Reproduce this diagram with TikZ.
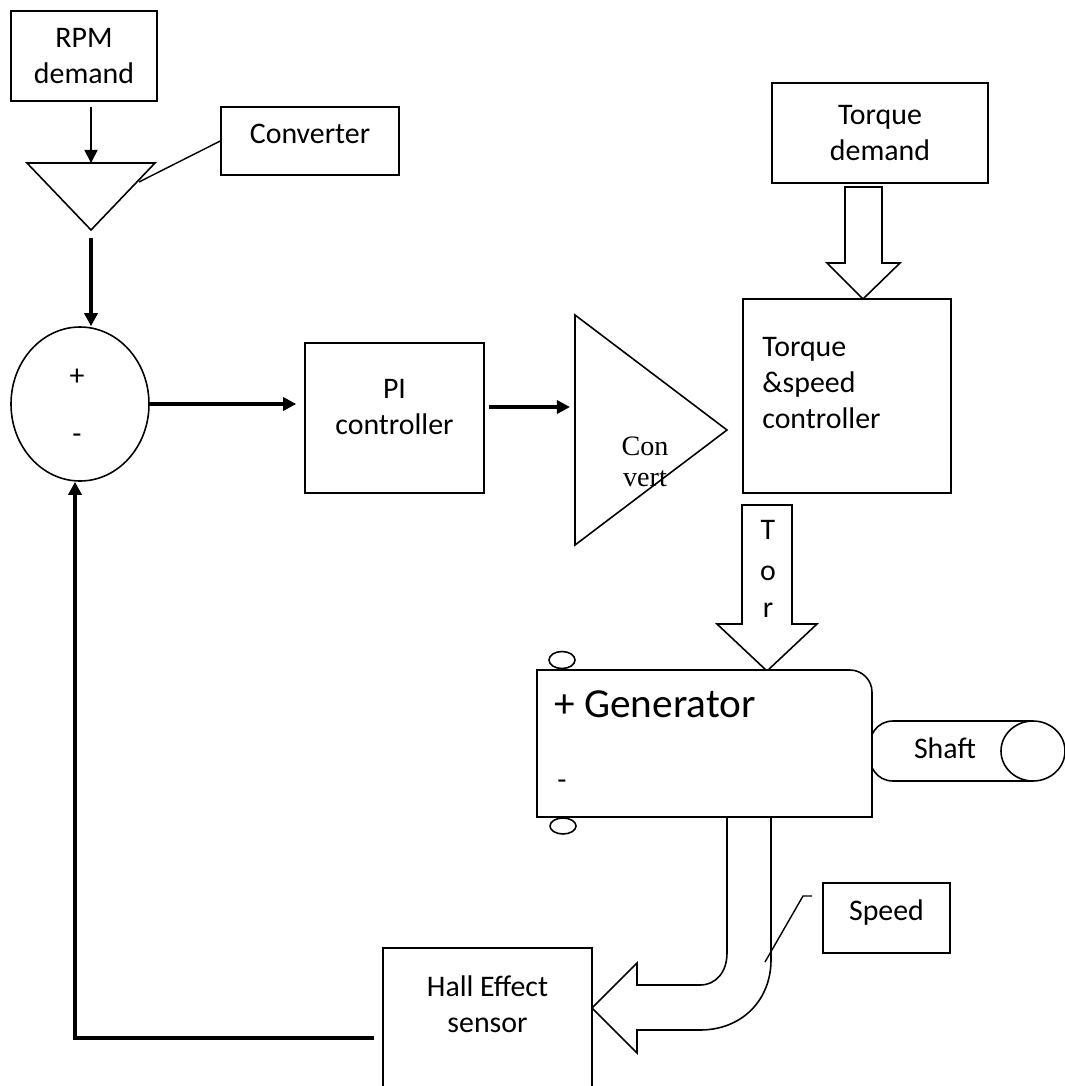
\documentclass[tikz,border=0pt]{standalone}
\usepackage{fontspec}
\setmainfont{Carlito}
\newfontfamily\convfont{Liberation Serif}
\usetikzlibrary{arrows.meta,positioning,shapes.geometric}
\newlength\pxl
\setlength\pxl{0.02cm}
\tikzset{block/.style={
    % The shape:
    rectangle,
    inner sep=0pt,
    % The border:
    draw=black,
    line width=0.9pt,
    % Font
    align=center,
    font=\fontsize{17}{20.5}\selectfont
    },
    txt/.style={
    inner sep=0pt,
    align=center,
    font=\fontsize{17}{20.5}\selectfont
    },
    sumjunction/.style={
    ellipse,
    inner sep=0pt,
    draw=black,
    line width=0.9pt,
    },
    signal/.style={line width=0.9pt, -{Triangle[length=7.5pt,width=7.5pt]}},
    bigsignal/.style={line width=1.9pt, -{Triangle[length=7.5pt,width=7.5pt]}},
    hollow/.style={draw=black, line width=0.9pt, fill=white},
    callout/.style={line width=0.8pt},
    outline/.style={draw=black, line width=0.9pt},
}

\begin{document}
\begin{tikzpicture}[x=0.02cm, y=-0.02cm]
    \useasboundingbox (0,0) rectangle (1065,1086);

    % speed reference
    \node (rpm)     [block, minimum width=146\pxl, minimum height=90\pxl] at (84,56) {RPM\\demand};
    \node (conv)    [block, minimum width=178\pxl, minimum height=68\pxl] at (310,141) {};
    \node (convtxt) [txt] at (310,134) {Converter};
    \coordinate (c1l) at (27,163);
    \coordinate (c1r) at (155,163);
    \coordinate (c1a) at (91,230);
    \coordinate (c1side) at (139,182);
    \draw [outline] (c1l) -- (c1r) -- (c1a) -- cycle;
    \draw [callout] (conv.west) -- (c1side);
    \draw [signal, shorten <=5\pxl] (c1a |- rpm.south) -- (c1a |- c1l);

    % summing junction
    \node (sum)   [sumjunction, minimum width=138\pxl, minimum height=154\pxl] at (80,404) {};
    \node (plus)  [txt] at (77,377) {+};
    \node (minus) [txt] at (77,439) {-};
    \draw [bigsignal, shorten <=8\pxl] (c1a) -- (c1a |- sum.north);

    % PI controller
    \node (pi)    [block, minimum width=179\pxl, minimum height=150\pxl] at (394.5,418) {};
    \node (pitxt) [txt] at (394.5,407) {PI\\controller};
    \draw [bigsignal, shorten >=8\pxl] (sum.east) -- (sum.east -| pi.west);

    % convert
    \coordinate (c2t) at (575,315);
    \coordinate (c2b) at (575,545);
    \coordinate (c2a) at (727,430);
    \draw [outline] (c2t) -- (c2a) -- (c2b) -- cycle;
    \node (c2txt) [txt, font=\convfont\fontsize{16}{17.5}\selectfont] at (645,462) {Con\\vert};
    \draw [bigsignal, shorten <=4\pxl, shorten >=5\pxl] (pi.east |- pitxt) -- (c2t |- pitxt);

    % torque side
    \node (tqd)    [block, minimum width=216\pxl, minimum height=100\pxl] at (880,133) {Torque\\demand};
    \node (tsc)    [block, minimum width=208\pxl, minimum height=194\pxl] at (847,396) {};
    \node (tsctxt) [txt, align=left, anchor=west] at (762,383) {Torque\\\&speed\\controller};
    \draw [hollow] (845,187) -- (845,263) -- (827,263) -- (863,299) -- (900,263) -- (882,263) -- (882,187) -- cycle;
    \draw [hollow] (742,505) -- (742,624) -- (717,624) -- (767,671) -- (817,624) -- (792,624) -- (792,505) -- cycle;
    \node (tor1) [txt, anchor=base] at (768,539) {T};
    \node (tor2) [txt, anchor=base] at (768,580) {o};
    \node (tor3) [txt, anchor=base] at (768,617) {r};

    % generator and shaft
    \draw [outline, fill=white] (1033,721) -- (893,721) .. controls (860,721) and (860,781) .. (893,781) -- (1033,781);
    \node (shaftend) [sumjunction, minimum width=64\pxl, minimum height=60\pxl] at (1033,751) {};
    \node (shafttxt) [txt] at (945,748) {Shaft};
    \draw [outline, fill=white] (537,817) -- (537,670) -- (850,670) .. controls (862,670) and (872,680) .. (872,692) -- (872,817) -- cycle;
    \node (gentxt)   [txt, anchor=base west, font=\fontsize{23.5}{28}\selectfont] at (554,717) {+ Generator};
    \node (genminus) [txt] at (562,785) {-};
    \node (termp) [sumjunction, minimum width=26\pxl, minimum height=17\pxl] at (562,660) {};
    \node (termn) [sumjunction, minimum width=26\pxl, minimum height=16\pxl] at (563,826) {};

    % speed feedback
    \draw [hollow, fill=none] (727,817) -- (727,953) .. controls (727,972) and (716,985) .. (700,985) -- (637,985) -- (637,963) -- (592,1008) -- (637,1053) -- (637,1030) -- (700,1030) .. controls (742,1030) and (771,1000) .. (771,960) -- (771,817);
    \node (spd) [block, minimum width=127\pxl, minimum height=70\pxl] at (886.5,918) {};
    \node (spdtxt) [txt] at (886.5,913) {Speed};
    \coordinate (spdk) at (803,896);
    \coordinate (spdend) at (812,896);
    \coordinate (spdtip) at (765,962);
    \draw [callout] (spdend) -- (spdk) -- (spdtip);

    \node (hall)    [block, minimum width=209\pxl, minimum height=160\pxl, anchor=north] at (487.5,947) {};
    \node (halltxt) [txt] at (487.5,1004) {Hall Effect\\sensor};
    \coordinate (fb) at (75,1038);
    \draw [bigsignal, shorten <=8\pxl] (hall.west |- fb) -- (fb) -- (fb |- sum.south);
\end{tikzpicture}
\end{document}
